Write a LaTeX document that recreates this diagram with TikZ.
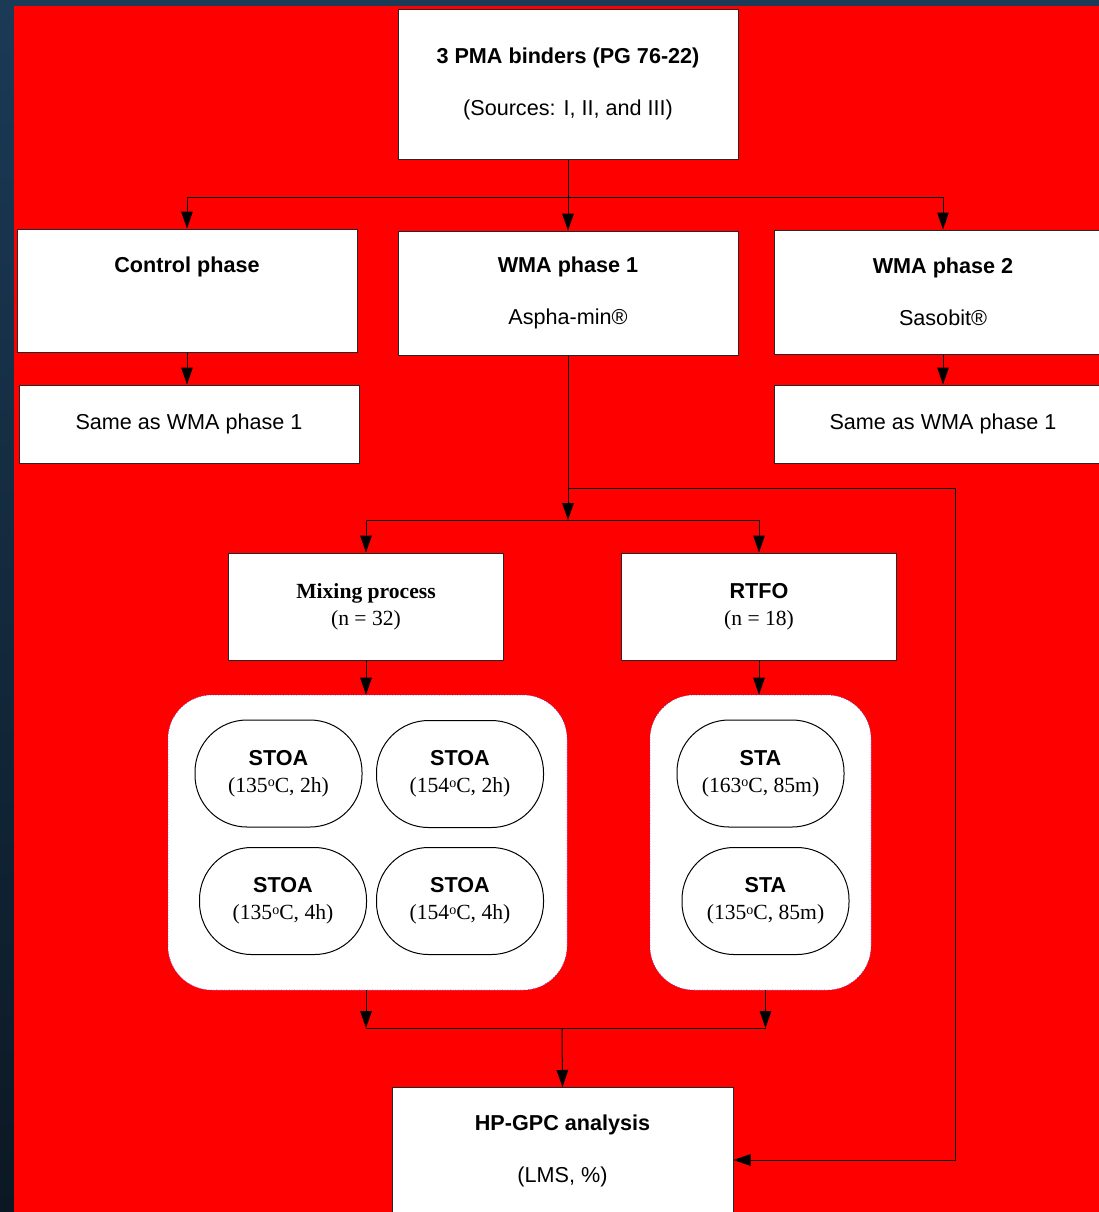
\documentclass[tikz,border=0pt]{standalone}
\usepackage{fontspec}
\setmainfont{Liberation Sans}
\newfontfamily\timesrm{Liberation Serif}
\usepackage{tikz}
\usetikzlibrary{arrows.meta,shapes.misc}

\definecolor{navytop}{HTML}{1B3A56}
\definecolor{navybot}{HTML}{0B1823}
\definecolor{sheet}{HTML}{FF0000}

\newcommand{\dego}{\raisebox{0.55ex}{\fontsize{7}{7}\selectfont o}}

\begin{document}
\begin{tikzpicture}[x=0.5pt,y=-0.5pt,
    line width=0.5pt,
    arr/.style={-{Triangle[length=8.5pt,width=5.8pt]}},
    phasebox/.style={draw=black!85, fill=white, align=center, inner sep=0pt,
        font=\fontsize{10.8}{26}\selectfont},
    procbox/.style={draw=black!85, fill=white, align=center, inner sep=0pt,
        minimum width=137.5pt, minimum height=53.5pt,
        font=\fontsize{10.8}{13.5}\selectfont},
    groupbox/.style={draw=blue!70, densely dotted, line width=0.3pt, fill=white,
        rounded corners=22pt, minimum height=147.5pt},
    agebox/.style={draw=black, fill=white, align=center, inner sep=0pt,
        rounded corners=26pt, minimum width=83.5pt, minimum height=53.5pt,
        font=\fontsize{10.8}{13.5}\selectfont}]
\useasboundingbox (0,0) rectangle (1099,1212);
\shade[top color=navytop, bottom color=navybot] (0,0) rectangle (1099,1212);
\fill[sheet] (14,6) rectangle (1099,1212);

% binder sources and phases
\node[phasebox, minimum width=170pt, minimum height=75pt] (binder) at (568,84)
    {\textbf{3 PMA binders (PG 76-22)}\\(Sources: I, II, and III)};
\node[phasebox, minimum width=170pt, minimum height=61.5pt] (ctrl) at (187,290.5)
    {\textbf{Control phase}\\\phantom{X}};
\node[phasebox, minimum width=170pt, minimum height=62pt] (wma1) at (568,293)
    {\textbf{WMA phase 1}\\Aspha-min\textregistered};
\node[phasebox, minimum width=169pt, minimum height=62pt] (wma2) at (943,292)
    {\textbf{WMA phase 2}\\Sasobit\textregistered};
\node[phasebox, minimum width=170pt, minimum height=39pt] (same1) at (189,424)
    {Same as WMA phase 1};
\node[phasebox, minimum width=169pt, minimum height=39pt] (same2) at (943,424)
    {Same as WMA phase 1};

% aging processes
\node[procbox] (mix) at (366,606.5)
    {\timesrm\textbf{Mixing process}\\\timesrm(n = 32)};
\node[procbox] (rtfo) at (759,606.5)
    {\textbf{RTFO}\\\timesrm(n = 18)};

\node[groupbox, minimum width=199.5pt] (grp1) at (367.5,842.5) {};
\node[groupbox, minimum width=110.5pt] (grp2) at (760.5,842.5) {};

\node[agebox] (stoa1) at (278.5,773.5)
    {\textbf{STOA}\\\timesrm(135\dego C, 2h)};
\node[agebox] (stoa2) at (460,774)
    {\textbf{STOA}\\\timesrm(154\dego C, 2h)};
\node[agebox] (stoa3) at (283,901)
    {\textbf{STOA}\\\timesrm(135\dego C, 4h)};
\node[agebox] (stoa4) at (460,901)
    {\textbf{STOA}\\\timesrm(154\dego C, 4h)};
\node[agebox] (sta1) at (760.5,773.5)
    {\textbf{STA}\\\timesrm(163\dego C, 85m)};
\node[agebox] (sta2) at (765.5,901)
    {\textbf{STA}\\\timesrm(135\dego C, 85m)};

\node[phasebox, minimum width=170.5pt, minimum height=63pt] (gpc) at (562.5,1150.5)
    {\textbf{HP-GPC analysis}\\(LMS, \%)};

% connectors
\coordinate (split1) at (568,197);
\coordinate (split2) at (568,488);
\coordinate (split3) at (568,520);
\coordinate (bypass) at (955,1160);
\coordinate (merge) at (562,1028);

\draw (binder.south) -- (split1);
\draw[arr] (split1) -| (ctrl.north);
\draw[arr] (split1) -- (wma1.north);
\draw[arr] (split1) -| (wma2.north);
\draw[arr] (ctrl.south) -- (ctrl.south |- same1.north);
\draw[arr] (wma2.south) -- (same2.north);

\draw[arr] (wma1.south) -- (split3);
\draw[arr] (split2) -| (bypass) -- (gpc.east |- bypass);
\draw[arr] (split3) -| (mix.north);
\draw[arr] (split3) -| (rtfo.north);
\draw[arr] (mix.south) -- (grp1.north -| mix.south);
\draw[arr] (rtfo.south) -- (grp2.north -| rtfo.south);

\draw[arr] (grp1.south -| mix.south) -- (merge -| mix.south);
\draw[arr] (grp2.south -| sta2) -- (merge -| sta2);
\draw (merge -| mix.south) -- (merge -| sta2);
\draw[arr] (merge) -- (gpc.north);
\end{tikzpicture}
\end{document}
